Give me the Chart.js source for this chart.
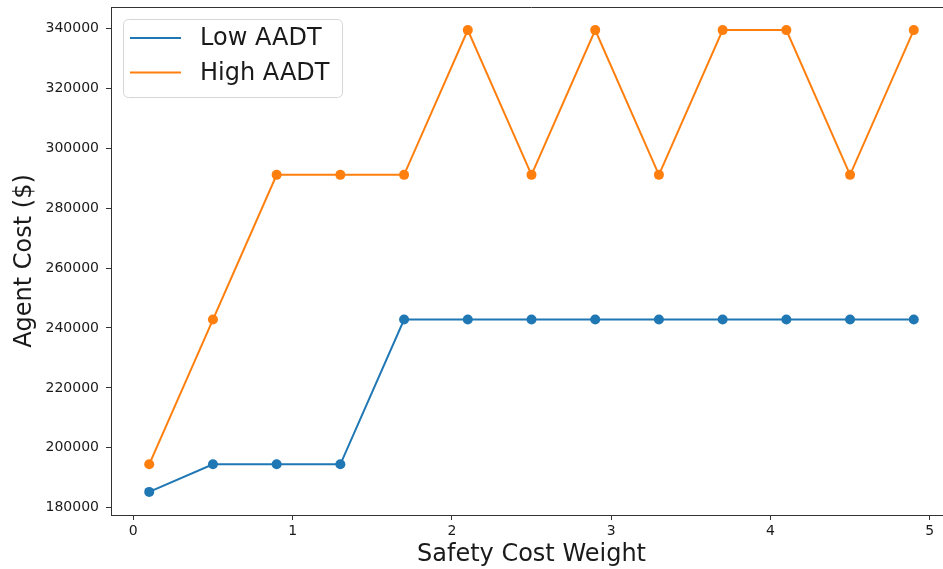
<!DOCTYPE html>
<html>
<head>
<meta charset="utf-8">
<script src="https://cdn.jsdelivr.net/npm/chart.js@4/dist/chart.umd.min.js"></script>
<style>
  html, body { margin: 0; padding: 0; background: #fff; overflow: hidden; width: 943px; height: 569px; }
  canvas { display: block; }
</style>
</head>
<body>
<canvas id="chart" width="960" height="569"></canvas>
<script>
const safetyWeights = [0.1, 0.5, 0.9, 1.3, 1.7, 2.1, 2.5, 2.9, 3.3, 3.7, 4.1, 4.5, 4.9];
const lowAadtCost = [185300, 194500, 194500, 194500, 242800, 242800, 242800, 242800, 242800, 242800, 242800, 242800, 242800];
const highAadtCost = [194500, 242800, 291100, 291100, 291100, 339400, 291100, 339400, 291100, 339400, 339400, 291100, 339400];
const xTickValues = [0, 1, 2, 3, 4, 5];
const yTickValues = [180000, 200000, 220000, 240000, 260000, 280000, 300000, 320000, 340000];

const FONT = "'DejaVu Sans', sans-serif";
const TEXT = '#1a1a1a';

const toPoints = (ys) => safetyWeights.map((x, i) => ({ x: x, y: ys[i] }));

// matplotlib-like frame: top spine and a boxed legend in the upper left
const framePlugin = {
  id: 'frame',
  afterDraw(chart) {
    const { ctx, chartArea } = chart;
    ctx.save();
    ctx.strokeStyle = '#333';
    ctx.lineWidth = 1;
    ctx.beginPath();
    ctx.moveTo(chartArea.left, chartArea.top + 0.5);
    ctx.lineTo(chartArea.right, chartArea.top + 0.5);
    ctx.stroke();

    // legend box
    const bx = 123, by = 19, bw = 219, bh = 78, r = 5;
    ctx.beginPath();
    ctx.roundRect(bx + 0.5, by + 0.5, bw, bh, r);
    ctx.fillStyle = 'rgba(255,255,255,0.8)';
    ctx.fill();
    ctx.strokeStyle = '#d6d6d6';
    ctx.stroke();

    ctx.font = '24px ' + FONT;
    ctx.textBaseline = 'middle';
    ctx.textAlign = 'left';
    chart.data.datasets.forEach((ds, i) => {
      const y = 38 + i * 34.5;
      ctx.strokeStyle = ds.borderColor;
      ctx.lineWidth = 2;
      ctx.beginPath();
      ctx.moveTo(130, y);
      ctx.lineTo(181, y);
      ctx.stroke();
      ctx.fillStyle = TEXT;
      ctx.fillText(ds.label, 200, y + 1);
    });
    ctx.restore();
  }
};

new Chart(document.getElementById('chart'), {
  type: 'line',
  plugins: [framePlugin],
  data: {
    datasets: [
      {
        label: 'Low AADT',
        data: toPoints(lowAadtCost),
        borderColor: '#1f77b4',
        backgroundColor: '#1f77b4',
        borderWidth: 2,
        pointRadius: 5,
        pointBorderWidth: 0,
        tension: 0,
      },
      {
        label: 'High AADT',
        data: toPoints(highAadtCost),
        borderColor: '#ff7f0e',
        backgroundColor: '#ff7f0e',
        borderWidth: 2,
        pointRadius: 5,
        pointBorderWidth: 0,
        tension: 0,
      },
    ],
  },
  options: {
    responsive: false,
    animation: false,
    events: [],
    layout: { padding: { top: 7, right: 8, left: 0, bottom: 0 } },
    plugins: {
      legend: { display: false },
      tooltip: { enabled: false },
    },
    scales: {
      x: {
        type: 'linear',
        min: -0.14,
        max: 5.14,
        afterBuildTicks: (scale) => {
          scale.ticks = xTickValues.map((v) => ({ value: v }));
        },
        afterFit: (scale) => {
          scale.height = 54;
          scale.paddingLeft = 0;
          scale.paddingRight = 0;
        },
        grid: { drawOnChartArea: false, tickLength: 5, color: '#333' },
        border: { color: '#333', width: 1 },
        ticks: {
          color: TEXT,
          font: { family: FONT, size: 14 },
          padding: 3,
          maxRotation: 0,
          callback: (v) => String(v),
        },
        title: {
          display: true,
          text: 'Safety Cost Weight',
          color: TEXT,
          font: { family: FONT, size: 24 },
          padding: { top: 0, bottom: 0 },
        },
      },
      y: {
        min: 177595,
        max: 347105,
        afterBuildTicks: (scale) => {
          scale.ticks = yTickValues.map((v) => ({ value: v }));
        },
        afterFit: (scale) => {
          scale.width = 111;
          scale.paddingTop = 0;
          scale.paddingBottom = 0;
        },
        grid: { drawOnChartArea: false, tickLength: 5, color: '#333' },
        border: { color: '#333', width: 1 },
        ticks: {
          color: TEXT,
          font: { family: FONT, size: 14 },
          padding: 7,
          callback: (v) => String(v),
        },
        title: {
          display: true,
          text: 'Agent Cost ($)',
          color: TEXT,
          font: { family: FONT, size: 24 },
          padding: { top: 10, bottom: 0 },
        },
      },
    },
  },
});
</script>
</body>
</html>
